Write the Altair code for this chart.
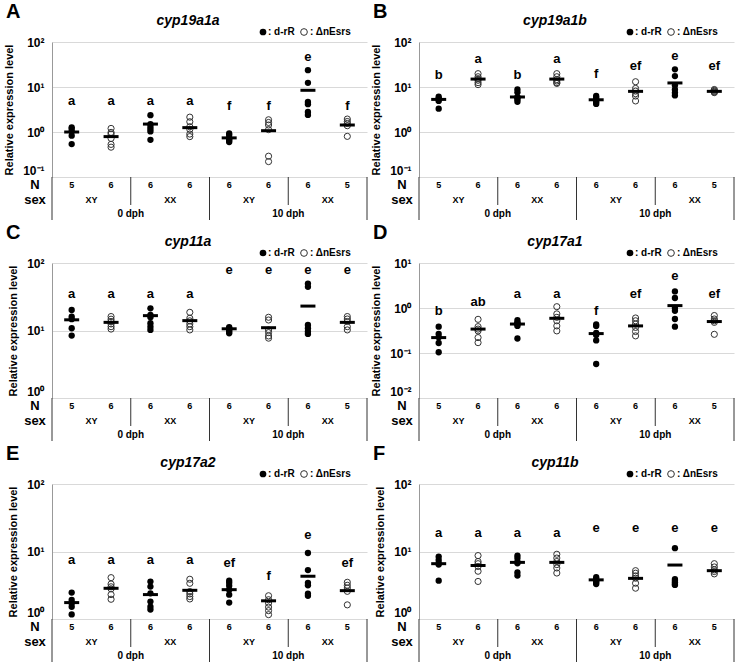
import altair as alt
import pandas as pd

FONT = "Liberation Sans"

GROUPS = ["g1", "g2", "g3", "g4", "g5", "g6", "g7", "g8"]
STRAIN = ["d-rR", "ΔnEsrs", "d-rR", "ΔnEsrs", "d-rR", "ΔnEsrs", "d-rR", "ΔnEsrs"]
N_VALUES = ["5", "6", "6", "6", "6", "6", "6", "5"]
SEX_LABELS = ["XY", "XX", "XY", "XX"]
SEX_EDGE = ["g2", "g4", "g6", "g8"]
DPH_LABELS = ["0 dph", "10 dph"]
DPH_EDGE = ["g3", "g7"]

PANEL_LETTERS = ["A", "B", "C", "D", "E", "F"]
GENES = ["cyp19a1a", "cyp19a1b", "cyp11a", "cyp17a1", "cyp17a2", "cyp11b"]
Y_DOMAINS = [[0.1, 100], [0.1, 100], [1, 100], [0.01, 10], [1, 100], [1, 100]]
Y_TICKS = [[0.1, 1, 10, 100], [0.1, 1, 10, 100], [1, 10, 100],
           [0.01, 0.1, 1, 10], [1, 10, 100], [1, 10, 100]]

# cyp19a1a
cyp19a1a_points = [
    [1.27, 1.16, 1.02, 0.83, 0.54],
    [1.2, 0.98, 0.9, 0.72, 0.53, 0.46],
    [2.37, 1.5, 1.31, 1.16, 1.03, 0.67],
    [2.14, 1.69, 1.31, 1.14, 0.9, 0.79],
    [0.93, 0.86, 0.74, 0.69, 0.64, 0.60],
    [1.87, 1.63, 1.43, 1.13, 0.29, 0.22],
    [23.7, 12.4, 4.67, 4.15, 2.8, 2.4],
    [1.94, 1.71, 1.55, 1.38, 0.8],
]
cyp19a1a_means = [1.0, 0.79, 1.5, 1.25, 0.74, 1.07, 8.45, 1.43]
cyp19a1a_letters = ["a", "a", "a", "a", "f", "f", "e", "f"]
cyp19a1a_letter_y = [4.9, 4.9, 4.9, 4.9, 3.7, 3.7, 46, 3.7]

# cyp19a1b
cyp19a1b_points = [
    [6.1, 5.6, 5.3, 4.9, 3.3],
    [19.8, 16.9, 15.3, 14.1, 12.5, 11.3],
    [8.8, 7.6, 6.0, 5.8, 5.3, 4.7],
    [19.8, 16.9, 14.6, 13.6, 12.5, 12.0],
    [6.3, 5.8, 5.3, 5.0, 4.6, 4.2],
    [13.1, 9.3, 8.1, 7.1, 6.3, 4.9],
    [24.7, 17.5, 10.9, 8.8, 7.5, 6.5],
    [8.8, 8.4, 8.0, 7.7, 7.5],
]
cyp19a1b_means = [5.3, 15, 6.0, 15, 5.2, 8.0, 12.3, 8.0]
cyp19a1b_letters = ["b", "a", "b", "a", "f", "ef", "e", "ef"]
cyp19a1b_letter_y = [18.5, 41, 18.5, 41, 19, 29, 50, 29]

# cyp11a
cyp11a_points = [
    [20.1, 16.1, 14.7, 10.8, 8.4],
    [16.1, 14.7, 13.6, 12.5, 11.4, 10.5],
    [21.3, 17.0, 15.7, 12.8, 11.4, 10.2],
    [18.6, 15.2, 13.9, 12.5, 11.4, 10.2],
    [11.2, 10.8, 10.5, 10.0, 9.6, 9.1],
    [15.7, 14.3, 10.2, 9.3, 8.3, 7.7],
    [49.6, 44.3, 12.1, 10.8, 9.7, 8.9],
    [16.1, 14.8, 13.6, 11.4, 10.2],
]
cyp11a_means = [14.4, 13.2, 16.6, 14.0, 10.6, 11.0, 23.0, 13.2]
cyp11a_letters = ["a", "a", "a", "a", "e", "e", "e", "e"]
cyp11a_letter_y = [35, 35, 35, 35, 78, 78, 78, 78]

# cyp17a1
cyp17a1_points = [
    [0.385, 0.264, 0.223, 0.167, 0.104],
    [0.56, 0.385, 0.34, 0.31, 0.22, 0.17],
    [0.54, 0.48, 0.46, 0.43, 0.40, 0.21],
    [1.07, 0.74, 0.62, 0.52, 0.40, 0.31],
    [0.43, 0.40, 0.28, 0.25, 0.19, 0.057],
    [0.60, 0.52, 0.44, 0.37, 0.30, 0.24],
    [2.34, 1.67, 1.0, 0.87, 0.57, 0.385],
    [0.68, 0.57, 0.52, 0.48, 0.26],
]
cyp17a1_means = [0.22, 0.34, 0.44, 0.59, 0.27, 0.40, 1.13, 0.50]
cyp17a1_letters = ["b", "ab", "a", "a", "f", "ef", "e", "ef"]
cyp17a1_letter_y = [0.84, 1.34, 2.05, 2.05, 0.84, 2.05, 5.2, 2.05]

# cyp17a2
cyp17a2_points = [
    [2.46, 1.92, 1.71, 1.52, 1.17],
    [4.1, 3.3, 3.0, 2.8, 2.3, 1.96],
    [3.58, 3.02, 2.4, 1.81, 1.52, 1.38],
    [3.88, 3.38, 2.55, 2.35, 2.15, 1.98],
    [3.7, 3.43, 3.12, 2.72, 2.29, 1.75],
    [2.21, 1.93, 1.72, 1.5, 1.33, 1.16],
    [9.5, 5.3, 3.43, 3.16, 2.37, 2.21],
    [3.5, 3.16, 2.88, 2.57, 1.62],
]
cyp17a2_means = [1.75, 2.85, 2.3, 2.66, 2.72, 1.86, 4.3, 2.63]
cyp17a2_letters = ["a", "a", "a", "a", "ef", "f", "e", "ef"]
cyp17a2_letter_y = [7.5, 7.5, 7.5, 7.5, 6.8, 4.3, 17.5, 6.8]

# cyp11b
cyp11b_points = [
    [8.4, 7.5, 6.7, 6.4, 3.7],
    [8.7, 7.1, 6.6, 6.0, 5.1, 3.6],
    [8.7, 8.0, 7.1, 6.7, 4.9, 4.4],
    [9.1, 8.0, 7.1, 6.4, 5.7, 4.8],
    [4.17, 3.9, 3.75, 3.6, 3.45, 3.3],
    [5.2, 4.77, 4.35, 4.02, 3.39, 2.86],
    [11.2, 3.9, 3.7, 3.5, 3.3, 3.2],
    [6.6, 5.9, 5.35, 5.05, 4.66],
]
cyp11b_means = [6.6, 6.2, 6.9, 6.9, 3.8, 4.0, 6.3, 5.2]
cyp11b_letters = ["a", "a", "a", "a", "e", "e", "e", "e"]
cyp11b_letter_y = [18.7, 18.7, 18.7, 18.7, 22, 22, 22, 22]

ALL_POINTS = [cyp19a1a_points, cyp19a1b_points, cyp11a_points,
              cyp17a1_points, cyp17a2_points, cyp11b_points]
ALL_MEANS = [cyp19a1a_means, cyp19a1b_means, cyp11a_means,
             cyp17a1_means, cyp17a2_means, cyp11b_means]
ALL_LETTERS = [cyp19a1a_letters, cyp19a1b_letters, cyp11a_letters,
               cyp17a1_letters, cyp17a2_letters, cyp11b_letters]
ALL_LETTER_Y = [cyp19a1a_letter_y, cyp19a1b_letter_y, cyp11a_letter_y,
                cyp17a1_letter_y, cyp17a2_letter_y, cyp11b_letter_y]

W, H = 315, 135
SX = alt.Scale(type="band", domain=GROUPS, paddingInner=0, paddingOuter=0)

LABEL_EXPR = ("'10' + (datum.value > 50 ? '²' : datum.value > 5 ? '¹' : "
              "datum.value > 0.5 ? '⁰' : datum.value > 0.05 ? '⁻¹' : '⁻²')")


def text_layer(txt, x, y, size, align="center", baseline="middle", style="normal"):
    return alt.Chart(pd.DataFrame({"t": [txt]})).mark_text(
        font=FONT, fontSize=size, fontWeight="bold", fontStyle=style,
        color="black", baseline=baseline, align=align
    ).encode(x=alt.value(x), y=alt.value(y), text="t:N")


def make_panel(i):
    pts = []
    for g, s, vals in zip(GROUPS, STRAIN, ALL_POINTS[i]):
        for v in vals:
            pts.append({"group": g, "strain": s, "value": v})
    pts = pd.DataFrame(pts)
    grp = pd.DataFrame({
        "group": GROUPS, "mean": ALL_MEANS[i], "letter": ALL_LETTERS[i],
        "ly": ALL_LETTER_Y[i], "n": N_VALUES,
    })
    sy = alt.Scale(type="log", domain=Y_DOMAINS[i], nice=False)
    ymin = Y_DOMAINS[i][0]

    filled = alt.Chart(pts).transform_filter(alt.datum.strain == "d-rR").mark_circle(
        size=40, color="black", opacity=1
    ).encode(
        x=alt.X("group:N", scale=SX, axis=alt.Axis(
            labels=False, ticks=False, title=None, domainColor="#333",
            grid=False)),
        y=alt.Y("value:Q", scale=sy, axis=alt.Axis(
            values=Y_TICKS[i], labelExpr=LABEL_EXPR,
            labelBaseline={"condition": {"test": f"datum.value <= {ymin * 1.01}",
                                         "value": "bottom"},
                           "value": "middle"},
            title="Relative expression level", grid=True, gridColor="#d9d9d9",
            ticks=False, domainColor="#999", labelFont=FONT, labelFontSize=12,
            labelFontWeight="bold", labelColor="black", labelPadding=8,
            titleFont=FONT, titleFontSize=11, titleFontWeight="bold",
            titleColor="black", titlePadding=8)),
    )
    opened = alt.Chart(pts).transform_filter(alt.datum.strain == "ΔnEsrs").mark_point(
        shape="circle", size=38, color="#333", strokeWidth=1, filled=False, opacity=1
    ).encode(
        x=alt.X("group:N", scale=SX, axis=None),
        y=alt.Y("value:Q", scale=sy),
    )
    means = alt.Chart(grp).mark_tick(
        color="black", thickness=3, size=15, opacity=1
    ).encode(
        x=alt.X("group:N", scale=SX, axis=None),
        y=alt.Y("mean:Q", scale=sy),
    )
    letters = alt.Chart(grp).mark_text(
        font=FONT, fontSize=13, fontWeight="bold", color="black", baseline="middle"
    ).encode(
        x=alt.X("group:N", scale=SX, axis=None),
        y=alt.Y("ly:Q", scale=sy),
        text="letter:N",
    )
    ntext = alt.Chart(grp).mark_text(
        font=FONT, fontSize=9, fontWeight="bold", color="black", baseline="middle"
    ).encode(
        x=alt.X("group:N", scale=SX, axis=None),
        y=alt.value(H + 8),
        text="n:N",
    )
    sex = alt.Chart(pd.DataFrame({"group": SEX_EDGE, "lab": SEX_LABELS})).mark_text(
        font=FONT, fontSize=9, fontWeight="bold", color="black", baseline="middle"
    ).encode(
        x=alt.X("group:N", scale=SX, axis=None, bandPosition=0),
        y=alt.value(H + 23),
        text="lab:N",
    )
    dph = alt.Chart(pd.DataFrame({"group": DPH_EDGE, "lab": DPH_LABELS})).mark_text(
        font=FONT, fontSize=10, fontWeight="bold", color="black", baseline="middle"
    ).encode(
        x=alt.X("group:N", scale=SX, axis=None, bandPosition=0),
        y=alt.value(H + 37),
        text="lab:N",
    )
    full_rules = alt.Chart(pd.DataFrame({"group": ["g1", "g5"]})).mark_rule(
        color="#333", strokeWidth=1
    ).encode(
        x=alt.X("group:N", scale=SX, axis=None, bandPosition=0),
        y=alt.value(H), y2=alt.value(H + 43),
    )
    right_rule = alt.Chart(pd.DataFrame({"group": ["g8"]})).mark_rule(
        color="#333", strokeWidth=1
    ).encode(
        x=alt.X("group:N", scale=SX, axis=None, bandPosition=1),
        y=alt.value(H), y2=alt.value(H + 43),
    )
    half_rules = alt.Chart(pd.DataFrame({"group": ["g3", "g7"]})).mark_rule(
        color="#333", strokeWidth=1
    ).encode(
        x=alt.X("group:N", scale=SX, axis=None, bandPosition=0),
        y=alt.value(H), y2=alt.value(H + 28),
    )
    n_lab = text_layer("N", -17, H + 8, 13)
    sex_lab = text_layer("sex", -17, H + 23, 13)
    title = text_layer(GENES[i], 136, -17, 14, baseline="alphabetic", style="italic")
    plet = text_layer(PANEL_LETTERS[i], -46, -24, 20, align="left", baseline="alphabetic")
    one = pd.DataFrame({"k": [0]})
    leg1 = alt.Chart(one).mark_circle(size=45, color="black", opacity=1).encode(
        x=alt.value(211), y=alt.value(-10))
    leg2 = text_layer(": d-rR", 216, -10, 10, align="left")
    leg3 = alt.Chart(one).mark_point(
        shape="circle", size=45, color="#333", strokeWidth=1, filled=False, opacity=1
    ).encode(x=alt.value(252), y=alt.value(-10))
    leg4 = text_layer(": ΔnEsrs", 258, -10, 10, align="left")

    return alt.layer(
        filled, opened, means, letters, ntext, sex, dph,
        full_rules, right_rule, half_rules, n_lab, sex_lab, title, plet,
        leg1, leg2, leg3, leg4
    ).properties(width=W, height=H)


panels = [make_panel(i) for i in range(6)]

chart = alt.concat(
    *panels, columns=2, spacing={"row": 86, "column": 52}, bounds="flush"
).resolve_scale(
    x="independent", y="independent"
).properties(
    padding={"left": 3, "top": 2, "right": 0, "bottom": 0},
    background="white",
).configure_view(stroke=None)

chart.save("out.html", embed_options={"renderer": "svg", "actions": False})
